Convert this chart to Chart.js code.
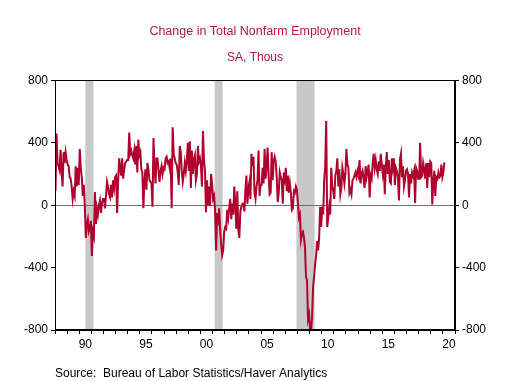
<!DOCTYPE html>
<html>
<head>
<meta charset="utf-8">
<script src="https://cdn.jsdelivr.net/npm/chart.js@4.4.0/dist/chart.umd.min.js"></script>
<style>
  html, body { margin: 0; padding: 0; background: #fff; }
</style>
</head>
<body>
<canvas id="myChart" width="510" height="381"></canvas>
<script>
// monthly change in nonfarm payrolls, thousands, SA
const payrolls1988to1995 = [
  91, 460, 270, 250, 225, 355, 220, 120, 340, 270, 340, 290,
  260, 250, 180, 170, 120, 40, 90, 60, 250, 120, 240, 130,
  360, 240, 180, 60, 130, 0, -210, -120, -90, -170, -150, -100,
  -325, -170, -200, 85, -120, -20, -60, 0, 30, -50, 10, 40,
  40, -20, 60, 150, 120, 70, 50, 130, 50, 160, 110, 180,
  190, -50, 150, 300, 240, 190, 300, 170, 230, 270, 280, 290,
  290, 465, 330, 350, 320, 300, 350, 260, 380, 210, 420, 320,
  340, 230, 210, -20, 150, 230, 100, 270, 230, 160, 150, 140
];
const payrolls1996to2003 = [
  -10, 430, 250, 140, 300, 300, 220, 150, 220, 250, 200, 240,
  230, 300, 310, 270, 280, 240, 300, -20, 500, 330, 300, 270,
  260, 210, 130, 380, 340, 220, 150, 200, 270, 220, 290, 400,
  220, 410, 110, 350, 200, 290, 320, 160, 200, 380, 280, 300,
  250, 120, 475, 290, 220, -45, 160, 0, 120, -5, 200, 140,
  40, 60, -40, -290, -50, -130, -20, -160, -250, -320, -290, -170,
  -140, -150, -30, -80, -10, 40, -90, 10, -60, 120, 10, -150,
  90, -160, -210, -40, -10, 10, 10, -40, 100, 190, 10, 110
];
const payrolls2004to2011 = [
  150, 40, 330, 250, 310, 80, 40, 120, 160, 350, 60, 130,
  130, 240, 140, 360, 170, 250, 370, 190, 70, 80, 340, 160,
  280, 310, 280, 180, 20, 80, 210, 180, 160, 10, 210, 170,
  240, 90, 190, 80, 140, 80, -30, -20, 90, 80, 120, 100,
  10, -80, -60, -220, -180, -170, -210, -270, -460, -480, -730, -700,
  -790, -805, -720, -520, -460, -380, -320, -230, -290, -210, -10, -140,
  -10, -60, 160, 250, 540, -140, -80, -10, -60, 240, 120, 90,
  40, 190, 220, 300, 120, 230, 70, 110, 240, 200, 140, 200
];
const payrolls2012to2020 = [
  360, 260, 240, 80, 100, 70, 160, 170, 190, 210, 180, 220,
  190, 290, 140, 200, 220, 170, 110, 250, 180, 220, 260, 50,
  190, 170, 270, 330, 240, 290, 230, 200, 280, 220, 330, 260,
  200, 260, 70, 250, 340, 200, 290, 150, 140, 300, 240, 300,
  130, 240, 220, 180, 30, 290, 330, 180, 250, 120, 160, 220,
  230, 200, 50, 200, 140, 210, 190, 220, 15, 240, 220, 170,
  170, 400, 180, 190, 270, 230, 170, 270, 110, 270, 180, 280,
  270, 5, 150, 220, 60, 180, 170, 210, 180, 190, 260, 180,
  210, 275
];
const firstYear = 1988;
const lastYear = 2020;
const labelYears = [1990, 1995, 2000, 2005, 2010, 2015, 2020];
const yTicks = [-800, -400, 0, 400, 800];
// NBER recessions (decimal years)
const recessionStarts = [1990.5, 2001.17, 2007.92];
const recessionEnds = [1991.17, 2001.83, 2009.42];

const allPayrolls = payrolls1988to1995.concat(payrolls1996to2003, payrolls2004to2011, payrolls2012to2020);
const points = allPayrolls.map((v, i) => ({ x: firstYear + (i + 0.5) / 12, y: v }));

Chart.defaults.font.family = "Arial, 'Liberation Sans', sans-serif";
Chart.defaults.font.size = 12;
Chart.defaults.color = '#000';

const recessionShading = {
  id: 'recessionShading',
  beforeDraw(chart) {
    const {ctx, chartArea, scales} = chart;
    ctx.save();
    ctx.fillStyle = '#c8c8c8';
    recessionStarts.forEach((s, i) => {
      const x0 = scales.x.getPixelForValue(s);
      const x1 = scales.x.getPixelForValue(recessionEnds[i]);
      ctx.fillRect(x0, chartArea.top, x1 - x0, chartArea.bottom - chartArea.top);
    });
    ctx.restore();
  },
  afterDraw(chart) {
    const {ctx, chartArea} = chart;
    ctx.save();
    ctx.strokeStyle = '#000';
    ctx.lineWidth = 1;
    ctx.strokeRect(Math.round(chartArea.left) + 0.5, Math.round(chartArea.top) + 0.5,
      Math.round(chartArea.right - chartArea.left) - 1, Math.round(chartArea.bottom - chartArea.top) - 1);
    ctx.restore();
  }
};

let mychart = document.getElementById('myChart').getContext('2d');
let chart = new Chart(mychart, {
  type: 'line',
  data: {
    datasets: [{
      label: 'Change in Total Nonfarm Employment',
      data: points,
      borderColor: '#b0002e',
      borderWidth: 2,
      pointRadius: 0,
      tension: 0,
      fill: false
    }]
  },
  options: {
    responsive: false,
    animation: false,
    layout: { padding: { left: 0, right: 0, top: 0, bottom: 0 } },
    plugins: {
      legend: { display: false },
      tooltip: { enabled: false },
      title: {
        display: true,
        text: 'Change in Total Nonfarm Employment',
        color: '#b3173f',
        font: { size: 12.5, weight: 'normal' },
        padding: { top: 24, bottom: 8 }
      },
      subtitle: {
        display: true,
        text: 'SA, Thous',
        color: '#b3173f',
        font: { size: 12, weight: 'normal' },
        padding: { top: 3, bottom: 16 }
      }
    },
    scales: {
      x: {
        type: 'linear',
        min: firstYear,
        max: lastYear + 1,
        afterBuildTicks: (scale) => {
          const t = [];
          for (let yr = firstYear; yr <= lastYear + 1; yr++) {
            t.push({ value: yr });
            if (labelYears.includes(yr)) t.push({ value: yr + 0.5 });
          }
          scale.ticks = t;
        },
        afterFit: (scale) => { scale.height = 51; },
        ticks: {
          autoSkip: false,
          maxRotation: 0,
          padding: 3,
          callback: (v) => (v % 1 !== 0) ? String(Math.floor(v) % 100).padStart(2, '0') : ''
        },
        grid: {
          drawOnChartArea: false,
          tickLength: 4,
          tickColor: (ctx) => (ctx.tick && ctx.tick.value % 1 === 0) ? '#000' : 'rgba(0,0,0,0)'
        },
        border: { color: '#000' },
        title: {
          display: true,
          text: 'Source:  Bureau of Labor Statistics/Haver Analytics',
          align: 'start',
          font: { size: 12 },
          padding: 0
        }
      },
      y: {
        position: 'left',
        min: -800,
        max: 800,
        afterBuildTicks: (scale) => { scale.ticks = yTicks.map(v => ({ value: v })); },
        afterFit: (scale) => { scale.width = 55; },
        ticks: { padding: 3 },
        grid: {
          tickLength: 4,
          tickColor: '#000',
          color: (ctx) => (ctx.tick && ctx.tick.value === 0) ? '#6e6e6e' : 'rgba(0,0,0,0)'
        },
        border: { color: '#000' }
      },
      y2: {
        position: 'right',
        min: -800,
        max: 800,
        afterBuildTicks: (scale) => { scale.ticks = yTicks.map(v => ({ value: v })); },
        afterFit: (scale) => { scale.width = 55; },
        ticks: { padding: 3 },
        grid: { drawOnChartArea: false, tickLength: 4, tickColor: '#000' },
        border: { color: '#000' }
      }
    }
  },
  plugins: [recessionShading]
});
</script>
</body>
</html>
